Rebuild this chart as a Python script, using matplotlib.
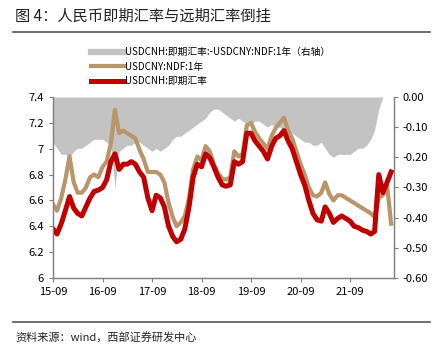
import pandas as pd
import matplotlib
matplotlib.use("Agg")
import matplotlib.pyplot as plt
import matplotlib.dates as mdates
from matplotlib.lines import Line2D

plt.rcParams['font.family'] = ['Noto Sans CJK SC', 'DejaVu Sans']

# monthly points, 2015-09 .. 2022-07
dates = pd.date_range('2015-09-01', periods=83, freq='MS')

cnh = [6.38, 6.34, 6.42, 6.52, 6.63, 6.54, 6.50, 6.48, 6.55, 6.62, 6.67, 6.68,
       6.70, 6.76, 6.90, 6.96, 6.84, 6.88, 6.88, 6.90, 6.88, 6.82, 6.78, 6.62,
       6.52, 6.64, 6.62, 6.55, 6.40, 6.32, 6.28, 6.30, 6.38, 6.55, 6.78, 6.88,
       6.86, 6.96, 6.93, 6.86, 6.78, 6.72, 6.71, 6.72, 6.90, 6.88, 6.90, 7.12,
       7.12, 7.06, 7.02, 6.98, 6.92, 7.02, 7.08, 7.10, 7.14, 7.06, 7.00, 6.90,
       6.80, 6.72, 6.60, 6.50, 6.45, 6.44, 6.55, 6.50, 6.43, 6.46, 6.48, 6.46,
       6.44, 6.40, 6.39, 6.37, 6.36, 6.34, 6.36, 6.80, 6.66, 6.74, 6.82]

ndf = [6.57, 6.52, 6.62, 6.76, 6.94, 6.74, 6.66, 6.66, 6.70, 6.78, 6.80, 6.78,
       6.86, 6.90, 7.04, 7.30, 7.12, 7.14, 7.12, 7.10, 7.08, 6.99, 6.92, 6.82,
       6.82, 6.82, 6.80, 6.74, 6.58, 6.47, 6.40, 6.43, 6.48, 6.62, 6.84, 6.94,
       6.91, 7.02, 6.98, 6.88, 6.81, 6.77, 6.76, 6.78, 6.98, 6.94, 6.96, 7.18,
       7.20, 7.13, 7.08, 7.04, 7.00, 7.10, 7.16, 7.20, 7.24, 7.14, 7.08, 6.98,
       6.88, 6.80, 6.70, 6.64, 6.63, 6.66, 6.74, 6.65, 6.60, 6.64, 6.64, 6.62,
       6.60, 6.58, 6.56, 6.54, 6.52, 6.50, 6.47, 6.62, 6.64, 6.72, 6.42]

spread = [-0.15, -0.17, -0.19, -0.19, -0.20, -0.18, -0.17, -0.17, -0.16, -0.15,
          -0.14, -0.14, -0.14, -0.15, -0.16, -0.30, -0.18, -0.17, -0.16, -0.16,
          -0.15, -0.15, -0.16, -0.17, -0.18, -0.17, -0.18, -0.17, -0.16, -0.14,
          -0.13, -0.13, -0.12, -0.11, -0.10, -0.09, -0.08, -0.07, -0.05, -0.04,
          -0.04, -0.05, -0.06, -0.07, -0.08, -0.07, -0.08, -0.09, -0.09, -0.08,
          -0.08, -0.09, -0.10, -0.09, -0.10, -0.10, -0.11, -0.11, -0.12, -0.13,
          -0.14, -0.15, -0.15, -0.16, -0.16, -0.15, -0.17, -0.19, -0.20, -0.19,
          -0.19, -0.19, -0.19, -0.18, -0.17, -0.17, -0.16, -0.14, -0.11, -0.04,
          0.00, 0.00, 0.00]

left_ticks = [6.0, 6.2, 6.4, 6.6, 6.8, 7.0, 7.2, 7.4]
left_labels = ['6', '6.2', '6.4', '6.6', '6.8', '7', '7.2', '7.4']
right_ticks = [-0.6, -0.5, -0.4, -0.3, -0.2, -0.1, 0.0]
right_labels = ['-0.60', '-0.50', '-0.40', '-0.30', '-0.20', '-0.10', '0.00']
year_ticks = pd.date_range('2015-09-01', periods=7, freq='12MS')

lab_spread = 'USDCNH:即期汇率:-USDCNY:NDF:1年（右轴）'
lab_ndf = 'USDCNY:NDF:1年'
lab_cnh = 'USDCNH:即期汇率'

gray = '#c3c3c3'
tan = '#b9956c'
red = '#c00000'
axc = '#808080'

fig = plt.figure(figsize=(4.43, 3.53), dpi=100)
ax = fig.add_axes([0.1196, 0.2125, 0.7694, 0.5127])
ax2 = ax.twinx()

ax2.fill_between(dates, spread, 0, color=gray, lw=0)
ax2.set_ylim(-0.6, 0.0)
ax2.set_yticks(right_ticks)
ax2.set_yticklabels(right_labels)

ax.plot(dates, ndf, color=tan, lw=3.0, solid_joinstyle='round')
ax.plot(dates, cnh, color=red, lw=3.6, solid_joinstyle='round')
ax.set_ylim(6.0, 7.4)
ax.set_yticks(left_ticks)
ax.set_yticklabels(left_labels)
ax.set_xlim(pd.Timestamp('2015-09-01'), pd.Timestamp('2022-07-21'))
ax.set_xticks(year_ticks)
ax.xaxis.set_major_formatter(mdates.DateFormatter('%y-%m'))

# lines above the gray area of the twin axis
ax.set_zorder(ax2.get_zorder() + 1)
ax.patch.set_visible(False)

for a in (ax, ax2):
    a.spines['top'].set_visible(False)
    for s in ('left', 'right', 'bottom'):
        a.spines[s].set_color(axc)
        a.spines[s].set_linewidth(0.9)
    a.tick_params(colors=axc, labelcolor='black', labelsize=8, length=3, width=0.8)

handles = [Line2D([], [], color=gray, lw=4.5),
           Line2D([], [], color=tan, lw=3.0),
           Line2D([], [], color=red, lw=3.6)]
fig.legend(handles, [lab_spread, lab_ndf, lab_cnh], loc='upper left',
           bbox_to_anchor=(0.205, 0.866), frameon=False, fontsize=7,
           handlelength=3.4, handletextpad=0.15, labelspacing=0.45,
           borderpad=0, borderaxespad=0)

fig.text(0.034, 0.953, '图 4：人民币即期汇率与远期汇率倒挂', fontsize=11,
         color='#222222', va='center')
fig.add_artist(Line2D([0.029, 0.971], [0.909, 0.909], color='#555555', lw=1.2))
fig.add_artist(Line2D([0.029, 0.971], [0.088, 0.088], color='#555555', lw=1.2))
fig.text(0.034, 0.045, '资料来源：wind，西部证券研发中心', fontsize=8,
         color='#222222', va='center')

fig.savefig('out.png', dpi=100)
